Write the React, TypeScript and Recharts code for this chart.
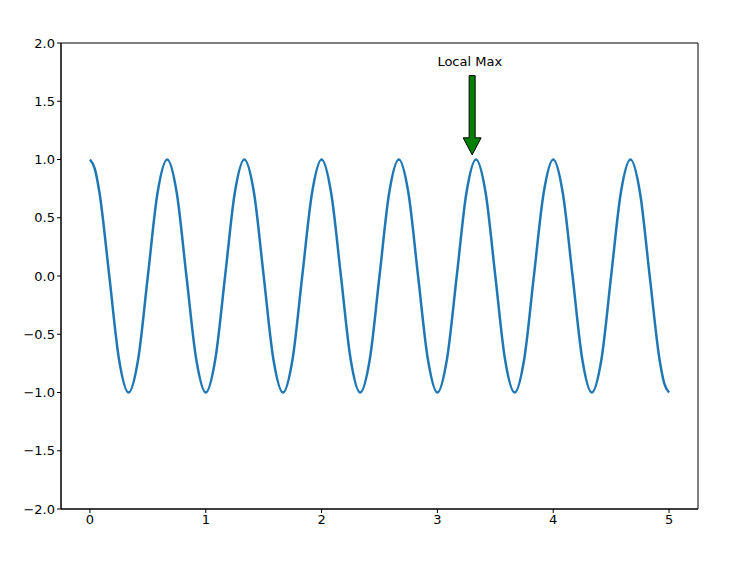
import { LineChart, Line, XAxis, YAxis, ReferenceArea, ReferenceLine, ReferenceDot } from "recharts";

// sampled positions along the curve (every 1/12, plus extra near the ends)
const xs = [
  0, 0.042, 0.083, 0.167, 0.25, 0.333, 0.417, 0.5, 0.583, 0.667, 0.75, 0.833, 0.917,
  1, 1.083, 1.167, 1.25, 1.333, 1.417, 1.5, 1.583, 1.667, 1.75, 1.833, 1.917,
  2, 2.083, 2.167, 2.25, 2.333, 2.417, 2.5, 2.583, 2.667, 2.75, 2.833, 2.917,
  3, 3.083, 3.167, 3.25, 3.333, 3.417, 3.5, 3.583, 3.667, 3.75, 3.833, 3.917,
  4, 4.083, 4.167, 4.25, 4.333, 4.417, 4.5, 4.583, 4.667, 4.75, 4.833, 4.917,
  4.958, 5,
];
const ys = [
  1, 0.92, 0.71, 0, -0.71, -1, -0.71, 0, 0.71,
  1, 0.71, 0, -0.71, -1, -0.71, 0, 0.71,
  1, 0.71, 0, -0.71, -1, -0.71, 0, 0.71,
  1, 0.71, 0, -0.71, -1, -0.71, 0, 0.71,
  1, 0.71, 0, -0.71, -1, -0.71, 0, 0.71,
  1, 0.71, 0, -0.71, -1, -0.71, 0, 0.71,
  1, 0.71, 0, -0.71, -1, -0.71, 0, 0.71,
  1, 0.71, 0, -0.71, -0.92, -1,
];
const xTicks = [0, 1, 2, 3, 4, 5];
const yTicks = [-2, -1.5, -1, -0.5, 0, 0.5, 1, 1.5, 2];

const annotText = "Local Max";
const annotTextPos = { x: 3.0, y: 1.8 };
const arrowFrom = { x: 3.3, y: 1.72 };
const arrowTo = { x: 3.3, y: 1.04 };

const rows = xs.map((x, i) => ({ x, y: ys[i] }));
const font = "'DejaVu Sans', sans-serif";

function Arrow(props: any) {
  const x1 = props.x1 ?? props.points?.[0]?.x;
  const y1 = props.y1 ?? props.points?.[0]?.y;
  const y2 = props.y2 ?? props.points?.[1]?.y;
  const cx = x1;
  const hw = 3, headW = 9, headL = 17;
  const baseY = y2 - headL;
  const d = `M${cx - hw},${y1} L${cx + hw},${y1} L${cx + hw},${baseY} L${cx + headW},${baseY} L${cx},${y2} L${cx - headW},${baseY} L${cx - hw},${baseY} Z`;
  return <path d={d} fill="green" stroke="#000" strokeWidth={1} />;
}

function Label(props: any) {
  return (
    <text x={props.cx} y={props.cy} fontFamily={font} fontSize={13} fill="#000" textAnchor="start">
      {annotText}
    </text>
  );
}

export default function App() {
  return (
    <div style={{ position: "absolute", left: 0, top: 0, background: "#fff" }}>
      <LineChart width={756} height={566} data={rows} margin={{ top: 43, right: 58, bottom: 0, left: 0 }}>
        <XAxis
          dataKey="x"
          type="number"
          domain={[-0.25, 5.25]}
          ticks={xTicks}
          height={57}
          tickSize={4}
          tickLine={{ stroke: "#000" }}
          axisLine={{ stroke: "#000" }}
          tick={{ fill: "#000", fontSize: 13, fontFamily: font }}
          allowDataOverflow
        />
        <YAxis
          type="number"
          domain={[-2, 2]}
          ticks={yTicks}
          width={61}
          tickSize={4}
          tickLine={{ stroke: "#000" }}
          axisLine={{ stroke: "#000" }}
          tick={{ fill: "#000", fontSize: 13, fontFamily: font }}
          tickFormatter={(v: number) => v.toFixed(1).replace("-", "\u2212")}
          allowDataOverflow
        />
        <ReferenceArea x1={-0.25} x2={5.25} y1={-2} y2={2} fill="none" stroke="#000" strokeWidth={1} ifOverflow="visible" />
        <Line
          type="monotone"
          dataKey="y"
          stroke="#1f77b4"
          strokeWidth={2.5}
          dot={false}
          isAnimationActive={false}
        />
        <ReferenceLine
          segment={[arrowFrom, arrowTo]}
          shape={<Arrow />}
          ifOverflow="visible"
        />
        <ReferenceDot x={annotTextPos.x} y={annotTextPos.y} shape={<Label />} ifOverflow="visible" />
      </LineChart>
    </div>
  );
}
